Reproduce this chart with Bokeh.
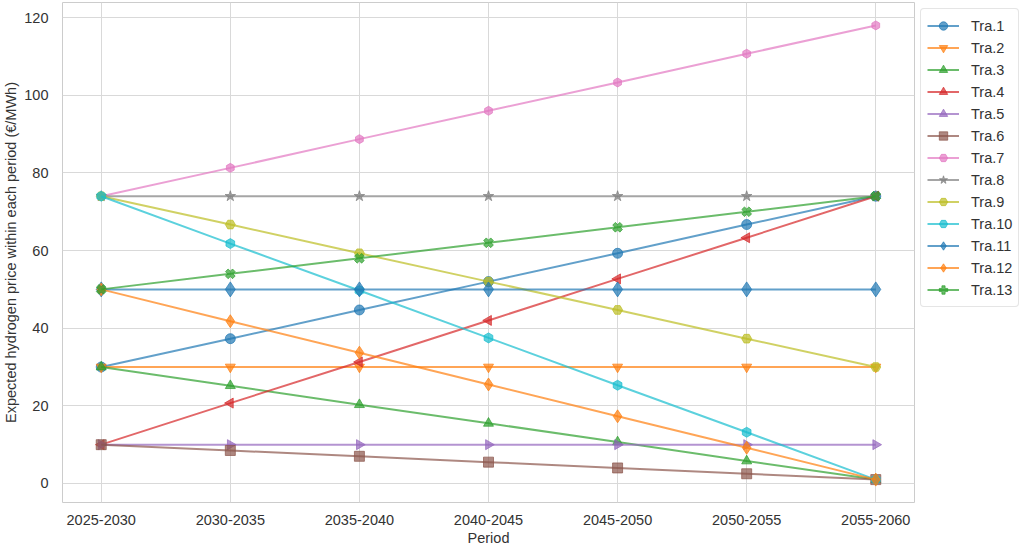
import math
from bokeh.plotting import figure
from bokeh.models import Range1d, FixedTicker, Legend, LegendItem, ColumnDataSource
from bokeh.embed import file_html
from bokeh.resources import INLINE

periods = ["2025-2030", "2030-2035", "2035-2040", "2040-2045", "2045-2050", "2050-2055", "2055-2060"]
x_idx = [0, 1, 2, 3, 4, 5, 6]

tra1 = [30, 37.3, 44.7, 52, 59.3, 66.7, 74]
tra2 = [30, 30, 30, 30, 30, 30, 30]
tra3 = [30, 25.2, 20.3, 15.5, 10.7, 5.8, 1]
tra4 = [10, 20.7, 31.3, 42, 52.7, 63.3, 74]
tra5 = [10, 10, 10, 10, 10, 10, 10]
tra6 = [10, 8.5, 7, 5.5, 4, 2.5, 1]
tra7 = [74, 81.3, 88.7, 96, 103.3, 110.7, 118]
tra8 = [74, 74, 74, 74, 74, 74, 74]
tra9 = [74, 66.7, 59.3, 52, 44.7, 37.3, 30]
tra10 = [74, 61.8, 49.7, 37.5, 25.3, 13.2, 1]
tra11 = [50, 50, 50, 50, 50, 50, 50]
tra12 = [50, 41.8, 33.7, 25.5, 17.3, 9.2, 1]
tra13 = [50, 54, 58, 62, 66, 70, 74]

series = [tra1, tra2, tra3, tra4, tra5, tra6, tra7, tra8, tra9, tra10, tra11, tra12, tra13]
names = ["Tra.1", "Tra.2", "Tra.3", "Tra.4", "Tra.5", "Tra.6", "Tra.7", "Tra.8", "Tra.9", "Tra.10", "Tra.11", "Tra.12", "Tra.13"]
colors = ["#1f77b4", "#ff7f0e", "#2ca02c", "#d62728", "#9467bd", "#8c564b", "#e377c2",
          "#7f7f7f", "#bcbd22", "#17becf", "#1f77b4", "#ff7f0e", "#2ca02c"]
markers = ["circle", "inverted_triangle", "triangle", "triangle", "triangle", "square", "hex",
           "star", "hex", "hex", "diamond", "diamond", "plus"]
angles = [0, 0, 0, math.pi / 2, -math.pi / 2, 0, math.pi / 2, 0, 0, math.pi / 2, 0, 0, math.pi / 4]
sizes = [10, 10, 10, 10, 10, 10, 9, 11, 10, 10, 15, 13, 10]

FONT = "Liberation Sans"
TXT = "#333333"

FW, FH = 852, 500

p = figure(frame_width=FW, frame_height=FH, output_backend="svg", toolbar_location=None,
           x_range=Range1d(-0.3, 6.3), y_range=Range1d(-4.9, 123.9),
           min_border_top=2, min_border_right=0, min_border_left=52, min_border_bottom=40)

p.background_fill_color = "white"
p.outline_line_color = "#cccccc"
p.outline_line_width = 1

for ax in (p.xaxis[0], p.yaxis[0]):
    ax.axis_line_color = None
    ax.major_tick_line_color = None
    ax.minor_tick_line_color = None
    ax.major_label_text_font = FONT
    ax.major_label_text_font_size = "14.5px"
    ax.major_label_text_color = TXT
    ax.axis_label_text_font = FONT
    ax.axis_label_text_font_size = "14.5px"
    ax.axis_label_text_font_style = "normal"
    ax.axis_label_text_color = TXT

p.xaxis.ticker = FixedTicker(ticks=x_idx)
p.xaxis.major_label_overrides = {i: lab for i, lab in zip(x_idx, periods)}
p.xaxis.axis_label = "Period"
p.xaxis.major_label_standoff = 6
p.xaxis.axis_label_standoff = 2
p.yaxis.ticker = FixedTicker(ticks=[0, 20, 40, 60, 80, 100, 120])
p.yaxis.axis_label = "Expected hydrogen price within each period (€/MWh)"
p.yaxis.major_label_standoff = 8
p.yaxis.axis_label_standoff = 2

p.xgrid.grid_line_color = "#d9d9d9"
p.ygrid.grid_line_color = "#d9d9d9"
p.xgrid.grid_line_width = 1
p.ygrid.grid_line_width = 1

items = []
for ys, name, col, mk, ang, sz in zip(series, names, colors, markers, angles, sizes):
    src = ColumnDataSource(dict(x=x_idx, y=ys))
    ln = p.line("x", "y", source=src, line_color=col, line_width=2, line_alpha=0.7)
    sc = p.scatter("x", "y", source=src, marker=mk, size=sz, angle=ang,
                   fill_color=col, line_color=col, fill_alpha=0.7, line_alpha=0.7)
    items.append(LegendItem(label=name, renderers=[ln, sc]))

legend = Legend(items=items, location="top_left")
legend.label_text_font = FONT
legend.label_text_font_size = "14.5px"
legend.label_text_color = TXT
legend.glyph_width = 32
legend.glyph_height = 21
legend.label_height = 21
legend.spacing = 1
legend.label_standoff = 12
legend.padding = 6
legend.margin = 6
legend.border_line_color = "#cccccc"
legend.border_line_width = 1
legend.background_fill_color = "white"
legend.background_fill_alpha = 1
legend.border_radius = 4
p.add_layout(legend, "right")

open("out.html", "w").write(file_html(p, INLINE))
